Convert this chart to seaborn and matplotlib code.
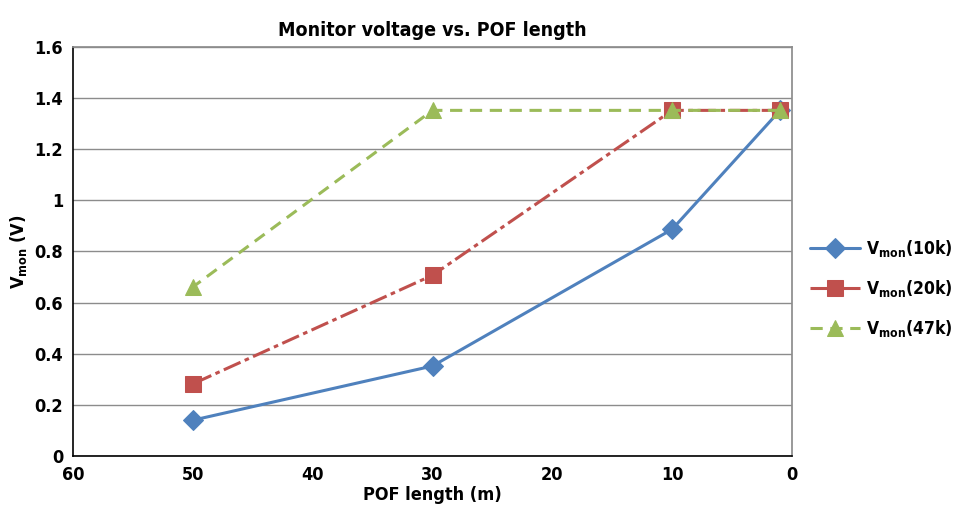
import pandas as pd
import matplotlib.pyplot as plt
import seaborn as sns
from matplotlib import font_manager

# data
pof_length = [50, 30, 10, 1]
vmon_10k = [0.14, 0.352, 0.887, 1.352]
vmon_20k = [0.282, 0.707, 1.352, 1.352]
vmon_47k = [0.661, 1.352, 1.352, 1.352]
series_names = [r'V$_{\mathbf{mon}}$(10k)', r'V$_{\mathbf{mon}}$(20k)', r'V$_{\mathbf{mon}}$(47k)']
y_ticks = [0, 0.2, 0.4, 0.6, 0.8, 1, 1.2, 1.4, 1.6]
y_tick_labels = ['0', '0.2', '0.4', '0.6', '0.8', '1', '1.2', '1.4', '1.6']
x_ticks = [60, 50, 40, 30, 20, 10, 0]

colors = ['#4F81BD', '#C0504D', '#9BBB59']
markers = ['D', 's', '^']
marker_sizes = [10, 11, 11]
dashes = ['-', (0, (6, 1.5, 1.5, 1.5)), (0, (4, 2.5))]

sns.set_theme(style="white")

# look for a condensed bold face, the reference uses a narrow font
narrow = None
for f in font_manager.fontManager.ttflist:
    condensed = f.stretch in ('condensed', 'semi-condensed', 'extra-condensed') or 'Narrow' in f.name or 'Condensed' in f.name
    if condensed and f.weight in ('bold', 700, 'demibold', 600):
        narrow = f
        break
if narrow is not None:
    font = narrow.name
    plt.rcParams['font.stretch'] = narrow.stretch
else:
    font = 'DejaVu Sans'
plt.rcParams['font.family'] = [font, 'DejaVu Sans']
plt.rcParams['font.weight'] = 'bold'
plt.rcParams['text.color'] = 'black'
plt.rcParams['axes.labelcolor'] = 'black'
plt.rcParams['mathtext.fontset'] = 'custom'
plt.rcParams['mathtext.rm'] = font + ':bold'
plt.rcParams['mathtext.bf'] = font + ':bold'

df = pd.DataFrame({
    'length': pof_length * 3,
    'vmon': vmon_10k + vmon_20k + vmon_47k,
    'series': [series_names[0]] * 4 + [series_names[1]] * 4 + [series_names[2]] * 4,
})

fig = plt.figure(figsize=(9.59, 5.18), dpi=100)
ax = fig.add_axes([0.0761, 0.1197, 0.7498, 0.7896])

for i, name in enumerate(series_names):
    sub = df[df['series'] == name]
    sns.lineplot(data=sub, x='length', y='vmon', ax=ax, color=colors[i],
                 marker=markers[i], markersize=marker_sizes[i],
                 markeredgecolor=colors[i], linewidth=2.2, label=name)
    ax.lines[-1].set_linestyle(dashes[i])

ax.set_xlim(60, 0)
ax.set_ylim(0, 1.6)
ax.set_xticks(x_ticks)
ax.set_xticklabels([str(t) for t in x_ticks], fontsize=13, fontweight='bold')
ax.set_yticks(y_ticks)
ax.set_yticklabels(y_tick_labels, fontsize=13, fontweight='bold')
ax.yaxis.grid(True, color='#8C8C8C', linewidth=1)
ax.tick_params(axis='both', direction='out', length=5, width=1, colors='black', pad=2)
ax.tick_params(axis='y', color='#8C8C8C')

for side in ['left', 'bottom']:
    ax.spines[side].set_color('black')
    ax.spines[side].set_linewidth(1.2)
ax.spines['top'].set_color('#8C8C8C')
ax.spines['right'].set_color('#8C8C8C')

ax.set_title('Monitor voltage vs. POF length', fontsize=14, fontweight='bold', pad=8)
ax.set_xlabel('POF length (m)', fontsize=13, fontweight='bold', labelpad=2)
ax.set_ylabel(r'V$_{\mathbf{mon}}$ (V)', fontsize=13, fontweight='bold', labelpad=4)

leg = ax.legend(loc='center left', bbox_to_anchor=(1.008, 0.41), frameon=False,
                fontsize=12.5, handlelength=2.9, handletextpad=0.35,
                labelspacing=1.1, borderaxespad=0.3)
for t in leg.get_texts():
    t.set_fontweight('bold')

fig.savefig('out.png', dpi=100)
